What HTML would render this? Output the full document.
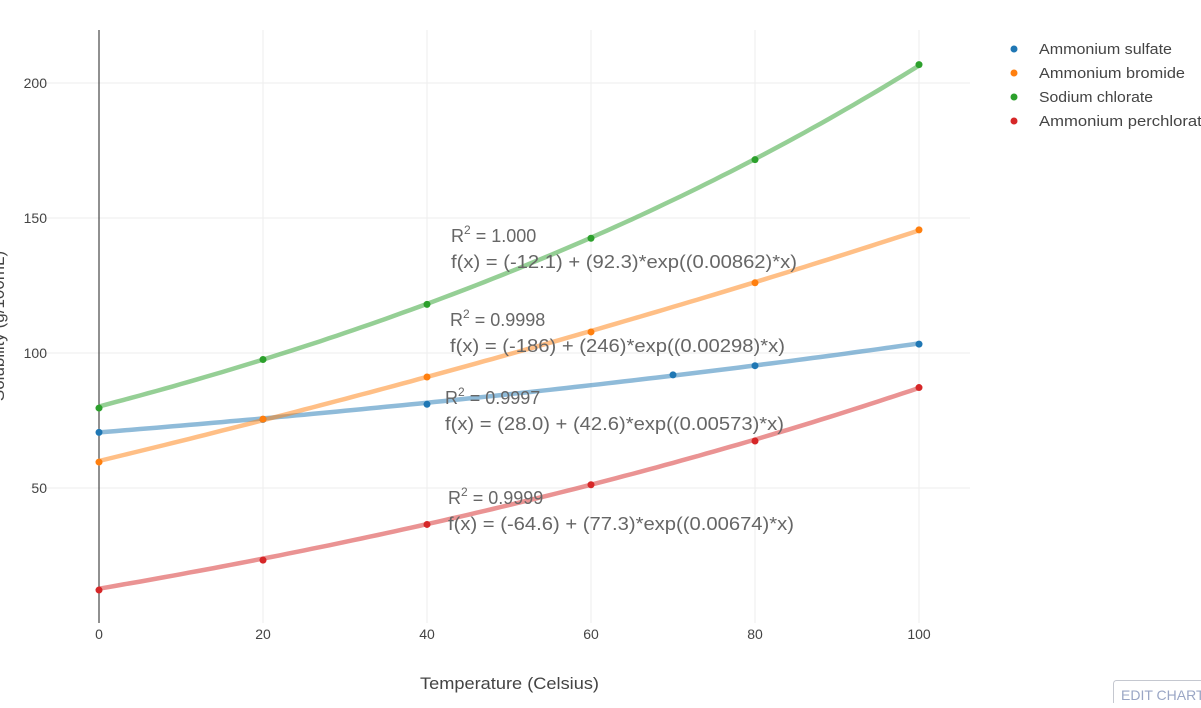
<!DOCTYPE html>
<html><head><meta charset="utf-8"><style>
body{margin:0;background:#fff;font-family:"Liberation Sans",sans-serif;}
svg text{font-family:"Liberation Sans",sans-serif;}
</style></head><body>
<svg id="chart" width="1201" height="703" xmlns="http://www.w3.org/2000/svg"></svg>
<script>
const xTicks=[0,20,40,60,80,100];
const yTicks=[50,100,150,200];
const seriesNames=["Ammonium sulfate","Ammonium bromide","Sodium chlorate","Ammonium perchlorate"];
const seriesColors=["#1f77b4","#ff7f0e","#2ca02c","#d62728"];
const sulfateX=[0,20,40,70,80,100];
const sulfateY=[70.6,75.4,81.0,91.9,95.3,103.3];
const bromideX=[0,20,40,60,80,100];
const bromideY=[59.6,75.5,91.1,107.8,126.0,145.6];
const chlorateX=[0,20,40,60,80,100];
const chlorateY=[79.6,97.6,118.0,142.5,171.6,206.8];
const perchlorateX=[0,20,40,60,80,100];
const perchlorateY=[12.2,23.3,36.5,51.2,67.4,87.2];
const fitA=[28.0,-186,-12.1,-64.6];
const fitB=[42.6,246,92.3,77.3];
const fitC=[0.00573,0.00298,0.00862,0.00674];
const r2Labels=["0.9997","0.9998","1.000","0.9999"];
const fitLabels=["f(x) = (28.0) + (42.6)*exp((0.00573)*x)","f(x) = (-186) + (246)*exp((0.00298)*x)","f(x) = (-12.1) + (92.3)*exp((0.00862)*x)","f(x) = (-64.6) + (77.3)*exp((0.00674)*x)"];

const NS="http://www.w3.org/2000/svg";
const svg=document.getElementById('chart');
function X(v){return 99+v*8.2;}
function Y(v){return 623-v*2.7;}
function mk(tag,attrs,parent){const e=document.createElementNS(NS,tag);for(const k in attrs)e.setAttribute(k,attrs[k]);(parent||svg).appendChild(e);return e;}

yTicks.forEach(t=>{
  const g=mk('line',{x1:30,x2:970,y1:Y(t),y2:Y(t),stroke:'#eee','stroke-width':1});
  
  
  const l=mk('text',{x:47,y:Y(t)+5,'text-anchor':'end','font-size':14,fill:'#444'});
  l.textContent=t;
  
  
});
xTicks.forEach(t=>{
  if(t>0){const g=mk('line',{x1:X(t),x2:X(t),y1:30,y2:623,stroke:'#eee','stroke-width':1});
  
  }
  const l=mk('text',{x:X(t),y:639,'text-anchor':'middle','font-size':14,fill:'#444'});
  l.textContent=t;
  
  
});
const za=mk('line',{x1:X(0),x2:X(0),y1:30,y2:623,stroke:'#222','stroke-width':1});



const xt=mk('text',{x:420,y:689,'font-size':17,fill:'#444',textLength:179,lengthAdjust:'spacingAndGlyphs'});
xt.textContent='Temperature (Celsius)';


const yt=mk('text',{x:0,y:0,transform:'translate(4,326) rotate(-90)','text-anchor':'middle','font-size':17,fill:'#444'});
yt.textContent='Solubility (g/100mL)';



const xs=[sulfateX,bromideX,chlorateX,perchlorateX];
const ys=[sulfateY,bromideY,chlorateY,perchlorateY];
for(let i=0;i<4;i++){
  let d='';
  for(let x=0;x<=100;x+=1){const v=fitA[i]+fitB[i]*Math.exp(fitC[i]*x);d+=(x?'L':'M')+X(x).toFixed(1)+','+Y(v).toFixed(1);}
  const p=mk('path',{d:d,fill:'none',stroke:seriesColors[i],'stroke-width':4.5,'stroke-opacity':0.5});
  
  
}
for(let i=0;i<4;i++){
  xs[i].forEach((x,j)=>{
    const c=mk('circle',{cx:X(x),cy:Y(ys[i][j]),r:3.5,fill:seriesColors[i]});
    
    
  });
}
const annPos=[[445,398,424,339,104],[450,320,346,335,103],[451,236,262,346,92],[448,498,524,346,104]];
for(let i=0;i<4;i++){
  const [ax,y1,y2,w,rw]=annPos[i];
  const t1=mk('text',{x:ax,y:y1+6,'font-size':18,fill:'#666'});
  t1.innerHTML='R<tspan dy="-8" font-size="12">2</tspan><tspan dy="8"> = '+r2Labels[i]+'</tspan>';
  
  
  const t2=mk('text',{x:ax,y:y2+6,'font-size':18,fill:'#666',textLength:w,lengthAdjust:'spacingAndGlyphs'});
  t2.textContent=fitLabels[i];
  
  
}
const legW=[133,146,114,172];
for(let i=0;i<4;i++){
  const yy=49+i*24;
  const c=mk('circle',{cx:1014,cy:yy,r:3.5,fill:seriesColors[i]});
  
  
  const t=mk('text',{x:1039,y:yy+5,'font-size':14.5,fill:'#444',textLength:legW[i],lengthAdjust:'spacingAndGlyphs'});
  t.textContent=seriesNames[i];
  
  
}
const b=mk('rect',{x:1113.5,y:680.5,width:120,height:30,rx:3,fill:'#fff',stroke:'#c5c8d0'});


const bt=mk('text',{x:1121,y:700,'font-size':14,fill:'#9aa6c5'});
bt.textContent='EDIT CHART';


</script>
</body></html>
